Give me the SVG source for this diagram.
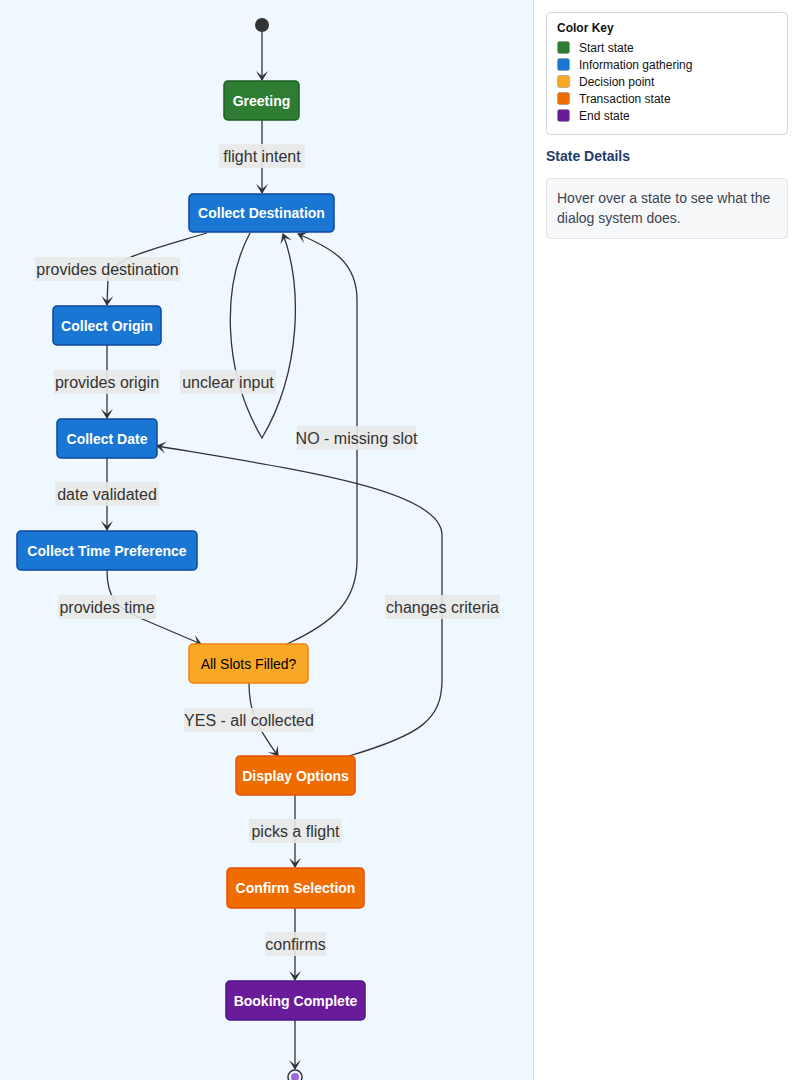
<svg xmlns="http://www.w3.org/2000/svg" width="800" height="1080" viewBox="0 0 800 1080">
<style>
.node rect{stroke-width:1.5}
.nt{font-family:"Liberation Sans",Arial,sans-serif;font-size:14px;font-weight:bold;fill:#fff;text-anchor:middle}
.edge{fill:none;stroke:#333;stroke-width:1.3}
.lb{fill:#e8e8e8;opacity:.9}
.lt{font-family:"Liberation Sans",Arial,sans-serif;font-size:16px;fill:#333;text-anchor:middle}
.blue rect{fill:#1976d2;stroke:#0d47a1}
.orange rect{fill:#ef6c00;stroke:#e65100}
.key{font-family:"Liberation Sans",Arial,sans-serif;font-size:12px;fill:#111}
</style>
<defs>
<marker id="arr" viewBox="0 0 20 14" refX="18" refY="7" markerWidth="20" markerHeight="14" orient="auto" markerUnits="userSpaceOnUse">
<path d="M19,7 L9,13 L14,7 L9,1 Z" fill="#333"/>
</marker>
</defs>
<rect x="0" y="0" width="800" height="1080" fill="#fff"/>
<rect x="0" y="0" width="533" height="1080" fill="#eff7ff"/>
<line x1="533.5" y1="0" x2="533.5" y2="1080" stroke="#d0d7de"/>

<g id="connectors">
<path class="edge" d="M262,32 L262,80" marker-end="url(#arr)"/>
<path class="edge" d="M262,120 L262,193" marker-end="url(#arr)"/>
<path class="edge" d="M207,233 C150,250 112,258 108,278 L107,305" marker-end="url(#arr)"/>
<path class="edge" d="M250,233 C222,285 222,370 262,438 C302,370 302,285 283,234" marker-end="url(#arr)"/>
<path class="edge" d="M287,644 C335,622 357,600 357,560 L357,300 C357,262 332,248 298,234" marker-end="url(#arr)"/>
<path class="edge" d="M107,345 L107,418" marker-end="url(#arr)"/>
<path class="edge" d="M107,458 L107,530" marker-end="url(#arr)"/>
<path class="edge" d="M107,570 C107,600 118,608 140,618 L201,644" marker-end="url(#arr)"/>
<path class="edge" d="M249,683 C249,712 256,725 278,756" marker-end="url(#arr)"/>
<path class="edge" d="M349,756 C420,735 442,720 442,680 L442,535 C442,490 300,470 157,446" marker-end="url(#arr)"/>
<path class="edge" d="M295,795 L295,867" marker-end="url(#arr)"/>
<path class="edge" d="M295,908 L295,980" marker-end="url(#arr)"/>
<path class="edge" d="M295,1020 L295,1069" marker-end="url(#arr)"/>

<rect class="lb" x="219" y="144" width="86" height="24"/><text class="lt" x="262" y="161.5">flight intent</text>
<rect class="lb" x="35" y="257" width="145" height="24"/><text class="lt" x="107.5" y="274.5">provides destination</text>
<rect class="lb" x="54" y="370" width="106" height="24"/><text class="lt" x="107" y="387.5">provides origin</text>
<rect class="lb" x="180" y="370" width="96" height="24"/><text class="lt" x="228" y="387.5">unclear input</text>
<rect class="lb" x="297" y="426" width="119" height="24"/><text class="lt" x="356.5" y="443.5">NO - missing slot</text>
<rect class="lb" x="55" y="482" width="104" height="24"/><text class="lt" x="107" y="499.5">date validated</text>
<rect class="lb" x="58" y="595" width="98" height="24"/><text class="lt" x="107" y="612.5">provides time</text>
<rect class="lb" x="385" y="595" width="115" height="24"/><text class="lt" x="442.5" y="612.5">changes criteria</text>
<rect class="lb" x="184" y="708" width="130" height="24"/><text class="lt" x="249" y="725.5">YES - all collected</text>
<rect class="lb" x="249" y="819" width="93" height="24"/><text class="lt" x="295.5" y="836.5">picks a flight</text>
<rect class="lb" x="265" y="932" width="61" height="24"/><text class="lt" x="295.5" y="949.5">confirms</text>
</g>

<g id="start"><circle cx="262" cy="25" r="7" fill="#333"/></g>
<g id="Greeting" class="node"><rect x="224" y="81" width="75" height="39" rx="4" fill="#2e7d32" stroke="#1b5e20"/><text class="nt" x="261.5" y="105.5">Greeting</text></g>
<g id="CollectDestination" class="node blue"><rect x="189" y="194" width="145" height="38" rx="4"/><text class="nt" x="261.5" y="218">Collect Destination</text></g>
<g id="CollectOrigin" class="node blue"><rect x="53" y="306" width="108" height="39" rx="4"/><text class="nt" x="107" y="330.5">Collect Origin</text></g>
<g id="CollectDate" class="node blue"><rect x="57" y="419" width="100" height="39" rx="4"/><text class="nt" x="107" y="443.5">Collect Date</text></g>
<g id="CollectTimePreference" class="node blue"><rect x="17" y="531" width="180" height="39" rx="4"/><text class="nt" x="107" y="555.5">Collect Time Preference</text></g>
<g id="AllSlotsFilled" class="node"><rect x="189" y="644" width="119" height="39" rx="4" fill="#f9a825" stroke="#f57f17"/><text class="nt" x="248.5" y="668.5" style="fill:#000;font-weight:normal">All Slots Filled?</text></g>
<g id="DisplayOptions" class="node orange"><rect x="236" y="756" width="119" height="39" rx="4"/><text class="nt" x="295.5" y="780.5">Display Options</text></g>
<g id="ConfirmSelection" class="node orange"><rect x="227" y="868" width="137" height="40" rx="4"/><text class="nt" x="295.5" y="893">Confirm Selection</text></g>
<g id="BookingComplete" class="node"><rect x="226" y="981" width="139" height="39" rx="4" fill="#6a1b9a" stroke="#4a148c"/><text class="nt" x="295.5" y="1005.5">Booking Complete</text></g>
<g id="end"><circle cx="295" cy="1077" r="7" fill="#eff7ff" stroke="#333" stroke-width="1.5"/><circle cx="295" cy="1077" r="4" fill="#9c6ade"/></g>

<g id="legend">
<rect x="546.5" y="12.5" width="241" height="122" rx="4" fill="#fff" stroke="#d0d7de"/>
<text class="key" x="557" y="32" style="font-weight:bold">Color Key</text>
<rect x="557.5" y="41.5" width="12" height="12" rx="2" fill="#2e7d32" stroke="#888" stroke-width=".5"/><text class="key" x="579" y="52">Start state</text>
<rect x="557.5" y="58.5" width="12" height="12" rx="2" fill="#1976d2" stroke="#888" stroke-width=".5"/><text class="key" x="579" y="69">Information gathering</text>
<rect x="557.5" y="75.5" width="12" height="12" rx="2" fill="#f9a825" stroke="#888" stroke-width=".5"/><text class="key" x="579" y="86">Decision point</text>
<rect x="557.5" y="92.5" width="12" height="12" rx="2" fill="#ef6c00" stroke="#888" stroke-width=".5"/><text class="key" x="579" y="103">Transaction state</text>
<rect x="557.5" y="109.5" width="12" height="12" rx="2" fill="#6a1b9a" stroke="#888" stroke-width=".5"/><text class="key" x="579" y="120">End state</text>
</g>
<g id="details">
<text x="546" y="161" font-family="Liberation Sans,Arial,sans-serif" font-size="14" font-weight="bold" fill="#1f3b6e">State Details</text>
<rect x="546.5" y="178.5" width="241" height="60" rx="4" fill="#f6f8fa" stroke="#e1e4e8"/>
<text x="557" y="203" font-family="Liberation Sans,Arial,sans-serif" font-size="14" fill="#3b4452">Hover over a state to see what the</text>
<text x="557" y="223" font-family="Liberation Sans,Arial,sans-serif" font-size="14" fill="#3b4452">dialog system does.</text>
</g>
</svg>
